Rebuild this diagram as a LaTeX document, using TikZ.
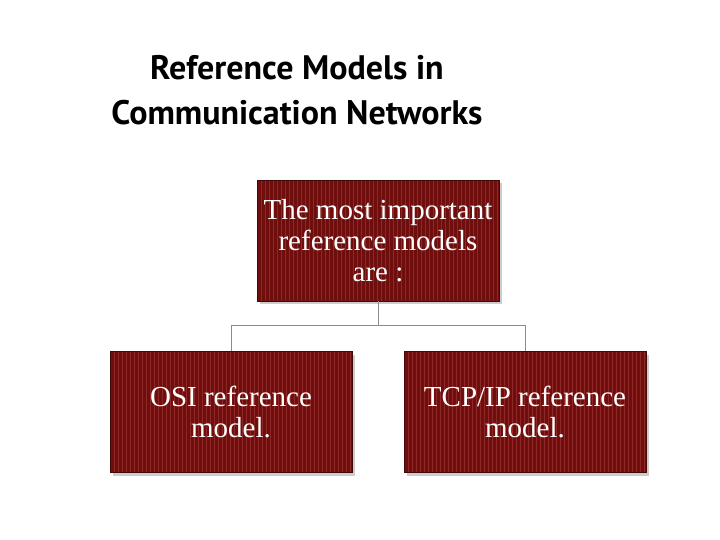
\documentclass[tikz,border=0pt]{standalone}
\usepackage{fontspec}
\setmainfont{Liberation Serif}
\newfontfamily\titlefont{PT Sans}
\usetikzlibrary{shadows}
\definecolor{boxred}{RGB}{112,14,14}
\definecolor{stripe}{RGB}{140,40,40}
\begin{document}
\begin{tikzpicture}[x=1pt,y=-1pt,
  box/.style={draw=boxred!60!black,fill=boxred,minimum width=242pt,minimum height=121pt,
    align=center,text=white,font=\fontsize{29}{31}\selectfont,inner sep=1pt,
    drop shadow={shadow xshift=3pt,shadow yshift=-3pt,fill=black!40},
    path picture={\foreach \i in {0,4,...,250}{\draw[stripe,line width=1pt]
      ([xshift=\i pt]path picture bounding box.south west) -- ([xshift=\i pt]path picture bounding box.north west);}}},
  conn/.style={draw=black!45,line width=0.8pt}]
\useasboundingbox (0,0) rectangle (720,540);
\node[font=\titlefont\bfseries\fontsize{34}{45}\selectfont,align=center] (title) at (297,90)
  {Reference Models in\\Communication Networks};
\node[box] (top) at (378,240.5) {The most important\\reference models\\are :};
\node[box] (left) at (231,412) {OSI reference\\model.};
\node[box] (right) at (525,412) {TCP/IP reference\\model.};
\coordinate (j) at (378,325);
\draw[conn] (top.south) -- (j);
\draw[conn] (j) -| (left.north);
\draw[conn] (j) -| (right.north);
\end{tikzpicture}
\end{document}
